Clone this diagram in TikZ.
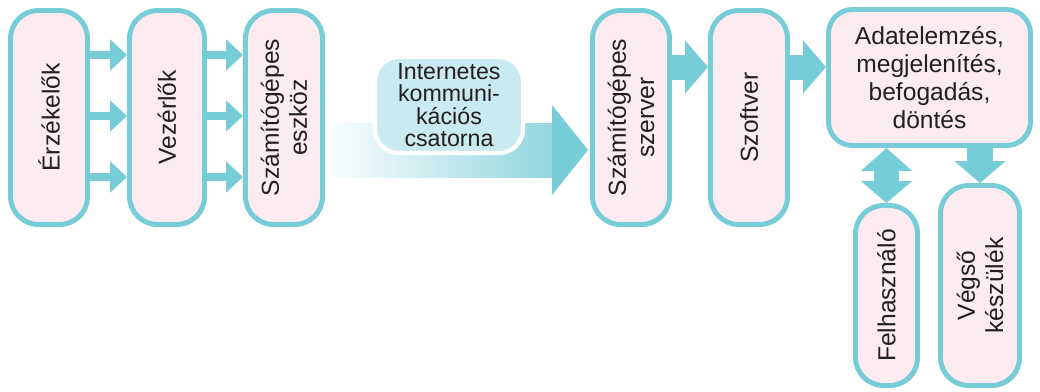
\documentclass[tikz,border=0pt]{standalone}
\usepackage{fontspec}
\setmainfont{Liberation Sans}
\usetikzlibrary{arrows.meta, positioning, calc, shadows}
\definecolor{tealc}{HTML}{76CCD7}
\definecolor{pinkc}{HTML}{FDEBF2}
\definecolor{chanc}{HTML}{C9EAF0}
\definecolor{textc}{HTML}{231F20}

\begin{document}
\begin{tikzpicture}[font=\fontsize{17.5}{20}\selectfont, text=textc,
    box/.style={draw=tealc, line width=3.5pt, fill=pinkc, rounded corners=0.7cm,
        minimum width=1.925cm, minimum height=5.35cm,
        drop shadow={shadow xshift=0.05cm, shadow yshift=-0.05cm, fill=black!40, opacity=0.5}},
    vtext/.style={rotate=90, align=center},
    link/.style={draw=tealc, line width=0.2cm, -{Triangle[length=0.42cm, width=0.75cm]}},
    flow/.style={draw=tealc, line width=0.625cm, -{Triangle[length=0.575cm, width=1.3cm]}}]
    \useasboundingbox ({0},{0}) rectangle ({26},{9.775});

    % bal oldali eszkoz-lanc
    \node[box] (erz) at ({1.225},{6.8375}) {};
    \node[box, minimum width=1.875cm] (vez) at ({4.175},{6.8375}) {};
    \node[box] (esz) at ({7.1},{6.8375}) {};
    \node[vtext] (erzt) at (erz) {Érzékelők};
    \node[vtext] (vezt) at (vez) {Vezérlők};
    \node[vtext] (eszt) at (esz) {Számítógépes\\eszköz};

    \foreach \y in {8.4,6.875,5.35} {
        \draw[link] (erz.east |- 0,\y) -- (vez.west |- 0,\y);
        \draw[link] (vez.east |- 0,\y) -- (esz.west |- 0,\y);
    }

    % jobb oldal
    \node[box] (szerver) at ({15.775},{6.8375}) {};
    \node[box] (szoftver) at ({18.725},{6.8375}) {};
    \node[vtext] (szervert) at (szerver) {Számítógépes\\szerver};
    \node[vtext] (szoftvert) at (szoftver) {Szoftver};
    \node[box, rounded corners=0.6cm, minimum width=5.05cm, minimum height=3.4cm, align=center] (adat) at ({23.2375},{7.8375}) {Adatelemzés,\\megjelenítés,\\befogadás,\\döntés};
    \node[box, minimum width=1.55cm, minimum height=4.5cm] (felh) at ({22.1625},{2.3875}) {};
    \node[box, minimum width=1.975cm, minimum height=5cm] (vegso) at ({24.5},{2.6375}) {};
    \node[vtext] (felht) at (felh) {Felhasználó};
    \node[vtext] (vegsot) at (vegso) {Végső\\készülék};

    \draw[flow] (szerver.east |- 0,8.1) -- (szoftver.west |- 0,8.1);
    \draw[flow] (szoftver.east |- 0,8.1) -- (adat.west |- 0,8.1);
    \draw[draw=tealc, line width=0.625cm, {Triangle[length=0.575cm, width=1.25cm]}-{Triangle[length=0.55cm, width=1.25cm]}] (felh.north |- adat.south) -- (felh.north);
    \draw[flow, line width=0.65cm, -{Triangle[length=0.55cm, width=1.25cm]}] (vegso.north |- adat.south) -- (vegso.north);

    % internetes csatorna
    \coordinate (cs) at ($(esz.east)+(0.12,-0.8125)$);
    \coordinate (ce) at ($(szerver.west |- cs)+(-0.05,0)$);
    \shade[left color=tealc!4, right color=tealc!80] ($(cs)+(0,-0.675)$) rectangle ($(ce)+(-0.85,0.675)$);
    \fill[tealc] ($(ce)+(-0.9,1.125)$) -- (ce) -- ($(ce)+(-0.9,-1.125)$) -- cycle;
    \node[draw=white, line width=3pt, fill=chanc, rounded corners=0.6cm, minimum width=3.7cm, minimum height=2.4cm, align=center, font=\fontsize{16.5}{16}\selectfont] (chan) at ({11.225},{7.15}) {Internetes\\kommuni-\\kációs\\csatorna};
\end{tikzpicture}
\end{document}
